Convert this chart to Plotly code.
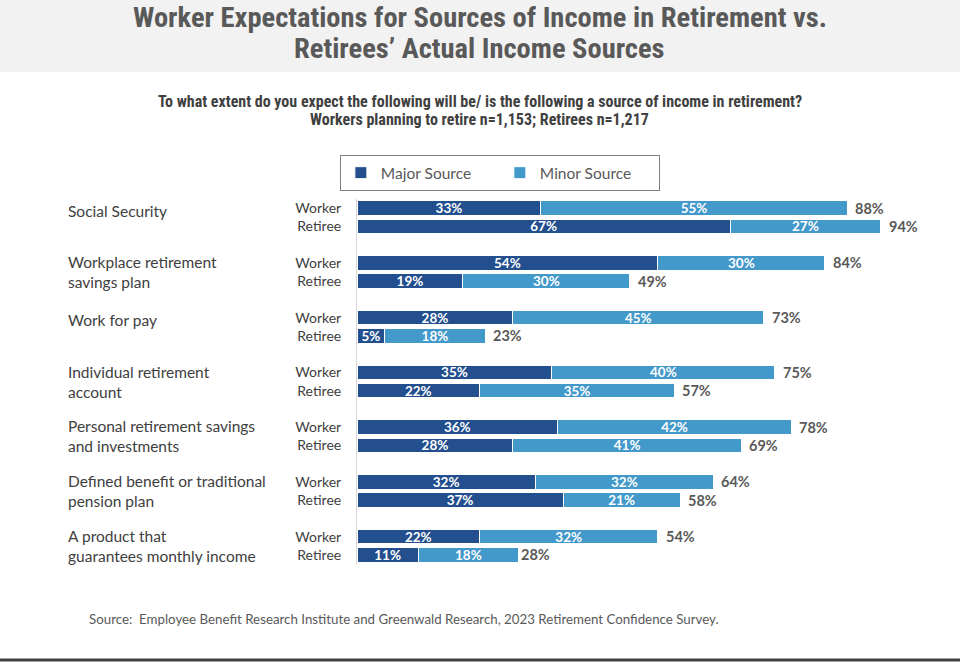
import plotly.graph_objects as go

categories = [
    "Social Security",
    "Workplace retirement<br>savings plan",
    "Work for pay",
    "Individual retirement<br>account",
    "Personal retirement savings<br>and investments",
    "Defined benefit or traditional<br>pension plan",
    "A product that<br>guarantees monthly income",
]
groups = ["Worker", "Retiree"]
worker_major = [33, 54, 28, 35, 36, 32, 22]
worker_minor = [55, 30, 45, 40, 42, 32, 32]
worker_total = [88, 84, 73, 75, 78, 64, 54]
retiree_major = [67, 19, 5, 22, 28, 37, 11]
retiree_minor = [27, 30, 18, 35, 41, 21, 18]
retiree_total = [94, 49, 23, 57, 69, 58, 28]

title_lines = ["Worker Expectations for Sources of Income in Retirement vs.",
               "Retirees’ Actual Income Sources"]
subtitle_lines = ["To what extent do you expect the following will be/ is the following a source of income in retirement?",
                  "Workers planning to retire n=1,153; Retirees n=1,217"]
source_text = "Source:  Employee Benefit Research Institute and Greenwald Research, 2023 Retirement Confidence Survey."

MAJOR_C = "#234F8E"
MINOR_C = "#4399CA"
FONT = "Lato, 'Noto Sans', sans-serif"
NARROW = "'Liberation Sans Narrow', 'Roboto Condensed', 'Arial Narrow', sans-serif"

ypos, major, minor, total, ticktext = [], [], [], [], []
for i in range(len(categories)):
    for j, (ma, mi, to) in enumerate([(worker_major[i], worker_minor[i], worker_total[i]),
                                      (retiree_major[i], retiree_minor[i], retiree_total[i])]):
        ypos.append(3 * i + j)
        major.append(ma)
        minor.append(mi)
        total.append(to)
        ticktext.append(groups[j])

fig = go.Figure()
for name, vals, col in [("Major Source", major, MAJOR_C), ("Minor Source", minor, MINOR_C)]:
    fig.add_trace(go.Bar(
        y=ypos, x=vals, orientation="h", name=name,
        marker=dict(color=col, line=dict(color="white", width=1)),
        width=0.8,
        text=[f"{v}%" for v in vals], textposition="inside", insidetextanchor="middle",
        constraintext="none",
        textfont=dict(color="white", size=13.5, family=FONT, weight="bold"),
        hoverinfo="skip",
    ))

annotations = []
for y, t in zip(ypos, total):
    annotations.append(dict(x=t, y=y, xref="x", yref="y", text=f"<b>{t}%</b>", showarrow=False,
                            xanchor="left", xshift=6, font=dict(size=14.5, color="#595959", family=FONT)))

for i, c in enumerate(categories):
    two = "<br>" in c
    annotations.append(dict(x=-0.523, y=3 * i + (0.5 if two else 0.15), xref="paper", yref="y",
                            text=c, showarrow=False, xanchor="left", yanchor="middle", align="left",
                            font=dict(size=15.5, color="#404040", family=FONT)))

# pixel-y -> paper-y helper (plot area spans 199..564 px)
def py(p):
    return (564 - p) / 365.0

for line, yc in zip(title_lines, [17, 48]):
    annotations.append(dict(x=0.2206, y=py(yc), xref="paper", yref="paper", xanchor="center", yanchor="middle",
                            text=f"<b>{line}</b>", showarrow=False, borderpad=0,
                            font=dict(size=28.5, color="#595959", family=NARROW)))
for line, yc in zip(subtitle_lines, [101, 120]):
    annotations.append(dict(x=0.2206, y=py(yc), xref="paper", yref="paper", xanchor="center", yanchor="middle",
                            text=f"<b>{line}</b>", showarrow=False, borderpad=0,
                            font=dict(size=16, color="#404040", family=NARROW)))
annotations.append(dict(x=-0.484, y=py(619), xref="paper", yref="paper", xanchor="left", yanchor="middle",
                        text=source_text, showarrow=False, font=dict(size=13.3, color="#595959", family=FONT)))

shapes = [
    dict(type="rect", xref="paper", yref="paper", x0=-0.65, x1=1.09, y0=py(72), y1=py(-5),
         fillcolor="#F2F2F2", line=dict(width=0), layer="below"),
    dict(type="line", xref="paper", yref="paper", x0=-0.65, x1=1.09, y0=py(660), y1=py(660),
         line=dict(color="#404040", width=3)),
]

fig.update_layout(
    width=960, height=663,
    margin=dict(l=357, r=46, t=199, b=99),
    paper_bgcolor="white", plot_bgcolor="white",
    barmode="stack", bargap=0.2,
    showlegend=True,
    legend=dict(orientation="h", x=0.2565, xanchor="center", y=1.071, yanchor="middle",
                bordercolor="#7F7F7F", borderwidth=1, bgcolor="white",
                font=dict(size=15.5, color="#595959", family=FONT),
                traceorder="normal", entrywidth=114, itemwidth=30),
    xaxis=dict(range=[0, 100], visible=False, fixedrange=True),
    yaxis=dict(range=[19.5, -0.5], tickvals=ypos, ticktext=ticktext, showgrid=False,
               zeroline=False, showline=True, linecolor="#D9D9D9", linewidth=1,
               ticks="", ticklabelstandoff=12, fixedrange=True,
               tickfont=dict(size=14, color="#404040", family=FONT)),
    annotations=annotations, shapes=shapes,
)

fig.write_html("out.html", config={"displayModeBar": False},
               post_script="document.body.style.margin='0';document.body.style.overflow='hidden';")
